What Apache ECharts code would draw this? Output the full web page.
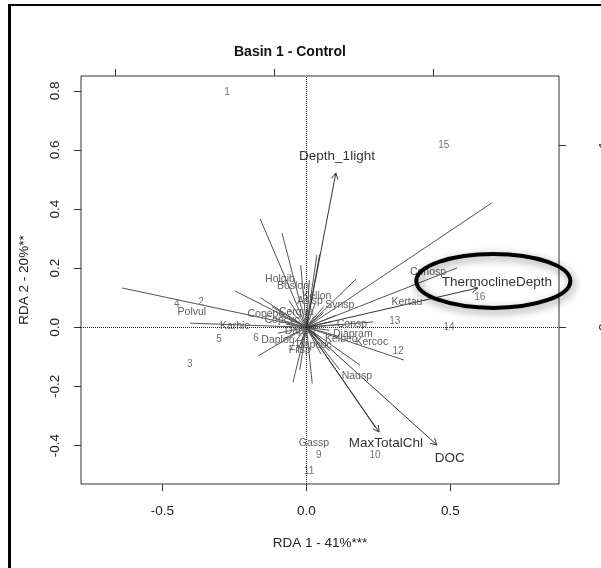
<!DOCTYPE html>
<html>
<head>
<meta charset="utf-8">
<script src="https://cdn.jsdelivr.net/npm/echarts@6/dist/echarts.min.js"></script>
<style>
  html, body { margin: 0; padding: 0; background: #fff; }
  #main { width: 601px; height: 568px; }
</style>
</head>
<body>
<div id="main"></div>
<script>
// RDA biplot, Basin 1 - Control
var xTicks = [-0.5, 0, 0.5]
var yTicks = [-0.4, -0.2, 0, 0.2, 0.4, 0.6, 0.8]
var topTicks = [-1, 0, 1]
var rightTicks = [0, 1]

// species labels
var speciesNames = ['Polvul', 'Karhie', 'Holgib', 'Boslon', 'Kellon', 'Asisp', 'Synsp', 'Copepo', 'Cerqua', 'Copcyc',
  'Consp', 'Diapram', 'Kelbec', 'Kercoc', 'Dapsp', 'Daplon', 'Dapcuc', 'Filsp', 'Nausp', 'Gassp', 'Kertau', 'Conosp']
var speciesX = [-0.398, -0.248, -0.092, -0.047, 0.036, 0.012, 0.116, -0.141, -0.036, -0.085,
  0.158, 0.161, 0.120, 0.227, -0.023, -0.099, 0.026, -0.023, 0.175, 0.026, 0.349, 0.422]
var speciesY = [0.052, 0.004, 0.163, 0.140, 0.106, 0.089, 0.075, 0.045, 0.052, 0.025,
  0.011, -0.023, -0.040, -0.050, -0.013, -0.043, -0.060, -0.077, -0.165, -0.391, 0.086, 0.187]

// species vectors (line tips)
var vecX = [-0.640, -0.404, -0.248, -0.168, -0.047, -0.161, -0.085, 0.036, 0.046, -0.020, 0.010,
  0.644, 0.172, 0.523, 0.231, 0.339, 0.240, 0.020, 0.116, 0.186, -0.023, 0.080,
  -0.160, -0.120, -0.090, -0.060, -0.040, 0.030, 0.060, 0.090, 0.110, 0.070, 0.050, -0.030, -0.070, 0.020, 0.100, -0.100,
  -0.050, 0.040, 0.080, -0.080, 0.060, -0.020, 0.120, -0.110, 0.030, -0.060]
var vecY = [0.133, 0.014, 0.123, -0.097, -0.186, 0.367, 0.319, 0.245, 0.248, 0.210, 0.160,
  0.421, 0.163, 0.201, 0.018, -0.111, -0.340, -0.190, -0.144, -0.128, -0.144, -0.080,
  0.100, 0.070, 0.040, 0.090, -0.050, 0.080, 0.050, 0.020, -0.030, -0.060, -0.090, -0.080, 0.010, 0.110, 0.040, -0.020,
  0.030, -0.030, -0.010, -0.040, 0.070, -0.060, 0.010, 0.030, 0.040, 0.060]

// sites
var siteNames = ['1', '2', '3', '4', '5', '6', '7', '8', '9', '10', '11', '12', '13', '14', '15', '16']
var siteX = [-0.276, -0.366, -0.405, -0.450, -0.304, -0.175, -0.050, -0.005, 0.043, 0.238, 0.009, 0.318, 0.307, 0.495, 0.477, 0.602]
var siteY = [0.796, 0.086, -0.124, 0.079, -0.040, -0.036, -0.067, -0.023, -0.432, -0.432, -0.486, -0.080, 0.021, 0.001, 0.617, 0.103]

// environmental arrows
var envNames = ['Depth_1light', 'ThermoclineDepth', 'MaxTotalChl', 'DOC']
var envX = [0.102, 0.595, 0.252, 0.453]
var envY = [0.522, 0.133, -0.354, -0.398]
var envLabelX = [0.106, 0.661, 0.276, 0.498]
var envLabelY = [0.580, 0.153, -0.392, -0.442]

// highlight ring around ThermoclineDepth
var ringCenter = [0.649, 0.157]

var FONT = 'Liberation Sans'

var vecData = vecX.map(function (x, i) { return [x, vecY[i], 0] })
  .concat(envX.map(function (x, i) { return [x, envY[i], 1] }))

function renderVector(params, api) {
  var o = api.coord([0, 0])
  var p = api.coord([api.value(0), api.value(1)])
  var env = api.value(2) === 1
  var color = env ? '#333' : '#555'
  var kids = [{
    type: 'line',
    shape: { x1: o[0], y1: o[1], x2: p[0], y2: p[1] },
    style: { stroke: color, lineWidth: 1 }
  }]
  if (env) {
    var a = Math.atan2(p[1] - o[1], p[0] - o[0])
    var L = 7
    ;[a + Math.PI - 0.5, a + Math.PI + 0.5].forEach(function (b) {
      kids.push({
        type: 'line',
        shape: { x1: p[0], y1: p[1], x2: p[0] + L * Math.cos(b), y2: p[1] + L * Math.sin(b) },
        style: { stroke: color, lineWidth: 1 }
      })
    })
  }
  return { type: 'group', children: kids }
}

function textRenderer(names, size, color) {
  return function (params, api) {
    var p = api.coord([api.value(0), api.value(1)])
    return {
      type: 'text',
      x: p[0], y: p[1],
      style: {
        text: names[params.dataIndex],
        fontFamily: FONT, fontSize: size, fill: color,
        align: 'center', verticalAlign: 'middle'
      }
    }
  }
}

var chart = echarts.init(document.getElementById('main'), null, { renderer: 'canvas' })

chart.setOption({
  animation: false,
  backgroundColor: '#fff',
  title: {
    text: 'Basin 1 - Control',
    left: 285, top: 40, textAlign: 'center',
    textStyle: { fontFamily: FONT, fontSize: 14, fontWeight: 'bold', color: '#111' }
  },
  grid: {
    left: 81, right: 42, top: 76, bottom: 84,
    outerBoundsMode: 'none', containLabel: false,
    show: true, borderColor: '#333', borderWidth: 1, backgroundColor: '#fff'
  },
  xAxis: [{
    type: 'value', position: 'bottom', min: -0.783, max: 0.877,
    name: 'RDA 1 - 41%***', nameLocation: 'middle', nameGap: 52,
    nameTextStyle: { fontFamily: FONT, fontSize: 13.5, color: '#222' },
    axisLine: { show: false, onZero: false },
    axisTick: { show: true, inside: false, length: 7, customValues: xTicks, lineStyle: { color: '#333' } },
    axisLabel: { customValues: xTicks, margin: 20, fontFamily: FONT, fontSize: 13.5, color: '#222',
      formatter: function (v) { return v.toFixed(1) } },
    splitLine: { show: false }
  }, {
    type: 'value', position: 'top', min: -1.214, max: 1.792,
    axisLine: { show: false, onZero: false },
    axisTick: { show: true, inside: false, length: 7, customValues: topTicks, lineStyle: { color: '#333' } },
    axisLabel: { show: false },
    splitLine: { show: false }
  }],
  yAxis: [{
    type: 'value', position: 'left', min: -0.530, max: 0.850,
    name: 'RDA 2 - 20%**', nameLocation: 'middle', nameGap: 50,
    nameTextStyle: { fontFamily: FONT, fontSize: 13.5, color: '#222' },
    axisLine: { show: false, onZero: false },
    axisTick: { show: true, inside: false, length: 7, customValues: yTicks, lineStyle: { color: '#333' } },
    axisLabel: { customValues: yTicks, rotate: 90, margin: 19, fontFamily: FONT, fontSize: 13.5, color: '#222',
      formatter: function (v) { return v.toFixed(1) } },
    splitLine: { show: false }
  }, {
    type: 'value', position: 'right', min: -0.860, max: 1.378,
    axisLine: { show: false, onZero: false },
    axisTick: { show: true, inside: false, length: 7, customValues: rightTicks, lineStyle: { color: '#333' } },
    axisLabel: { customValues: rightTicks, rotate: 90, margin: 38, fontFamily: FONT, fontSize: 13.5, color: '#222' },
    splitLine: { show: false }
  }],
  graphic: [
    { type: 'rect', shape: { x: 8, y: 4, width: 3, height: 564 }, style: { fill: '#000' } },
    { type: 'rect', shape: { x: 8, y: 4, width: 593, height: 2 }, style: { fill: '#000' } }
  ],
  series: [
    {
      // zero lines
      type: 'line', data: [], symbol: 'none',
      markLine: {
        silent: true, symbol: 'none', label: { show: false },
        lineStyle: { type: 'dotted', color: '#222', width: 1 },
        data: [{ xAxis: 0 }, { yAxis: 0 }]
      }
    },
    {
      type: 'custom', renderItem: renderVector, data: vecData, silent: true
    },
    {
      type: 'custom', renderItem: textRenderer(siteNames, 10, '#707070'),
      data: siteX.map(function (x, i) { return [x, siteY[i]] }), silent: true
    },
    {
      type: 'custom', renderItem: textRenderer(speciesNames, 10.5, '#5e5e5e'),
      data: speciesX.map(function (x, i) { return [x, speciesY[i]] }), silent: true
    },
    {
      type: 'custom', renderItem: textRenderer(envNames, 13.5, '#333'),
      data: envLabelX.map(function (x, i) { return [x, envLabelY[i]] }), silent: true
    },
    {
      type: 'custom', silent: true, data: [ringCenter],
      renderItem: function (params, api) {
        var c = api.coord([api.value(0), api.value(1)])
        return {
          type: 'ellipse',
          shape: { cx: c[0], cy: c[1], rx: 77, ry: 27 },
          style: {
            fill: 'none', stroke: '#000', lineWidth: 4,
            shadowBlur: 8, shadowColor: 'rgba(0,0,0,0.45)', shadowOffsetX: 2, shadowOffsetY: 3
          }
        }
      }
    }
  ]
})
</script>
</body>
</html>
